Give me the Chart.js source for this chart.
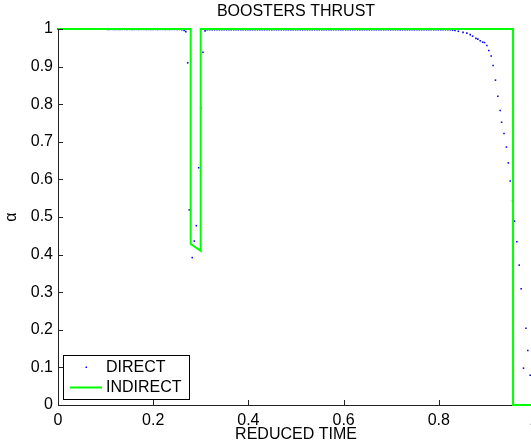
<!DOCTYPE html>
<html>
<head>
<meta charset="utf-8">
<script src="https://cdn.jsdelivr.net/npm/chart.js@4.4.1/dist/chart.umd.min.js"></script>
<style>
  html, body { margin: 0; padding: 0; background: #fff; overflow: hidden; }
  #wrap { width: 545px; height: 448px; position: relative; }
</style>
</head>
<body>
<div id="wrap"><canvas id="thrustChart"></canvas></div>
<script>
// reduced time / alpha
const directTime = [
  0,0.0025,0.005,0.0075,0.01,0.0125,0.015,0.0175,0.02,0.0225,0.025,0.0275,0.03,0.0325,0.035,0.0375,0.04,0.0425,0.045,0.0475,
  0.05,0.0525,0.055,0.0575,0.06,0.0625,0.065,0.0675,0.07,0.0725,0.075,0.0775,0.08,0.0825,0.085,0.0875,0.09,0.0925,0.095,0.0975,0.1,
  0.105,0.11,0.115,0.12,0.125,0.13,0.135,0.14,0.145,0.15,0.155,0.16,0.165,0.17,0.175,0.18,0.185,0.19,0.195,0.2,
  0.205,0.21,0.215,0.22,0.225,0.23,0.235,0.24,0.245,0.25,0.255,0.26,0.265,
  0.2685,0.2725,0.2758,0.282,0.2863,0.2905,0.2956,0.2998,0.3046,0.309,
  0.314,0.319,0.324,0.329,0.334,0.339,0.344,0.349,0.354,0.359,0.364,0.369,0.374,0.379,0.384,0.389,0.394,0.399,0.404,0.409,
  0.414,0.419,0.424,0.429,0.434,0.439,0.444,0.449,0.454,0.459,0.464,0.469,0.474,0.479,0.484,0.489,0.494,0.499,0.504,0.509,
  0.514,0.519,0.524,0.529,0.534,0.539,0.544,0.549,0.554,0.559,0.564,0.569,0.574,0.579,0.584,0.589,0.594,0.599,0.604,0.609,
  0.614,0.619,0.624,0.629,0.634,0.639,0.644,0.649,0.654,0.659,0.664,0.669,0.674,0.679,0.684,0.689,0.694,0.699,0.704,0.709,
  0.714,0.719,0.724,0.729,0.734,0.739,0.744,0.749,0.754,0.759,0.764,0.769,0.774,0.779,0.784,0.789,0.794,0.799,0.804,0.809,
  0.814,0.819,0.824,0.829,0.834,
  0.841,0.851,0.859,0.866,0.871,0.878,0.882,0.887,0.892,0.896,0.901,0.905,0.910,0.914,0.919,0.924,0.929,0.932,0.937,0.942,
  0.946,0.950,0.955,0.959,0.964,0.969,0.973,0.978,0.983,0.987,0.992
];
const directAlpha = [
  1,1,1,1,1,1,1,1,1,1,1,1,1,1,1,1,1,1,1,1,
  1,1,1,1,1,1,1,1,1,1,1,1,1,1,1,1,1,1,1,1,1,
  0.999,0.999,0.999,0.999,0.999,0.999,0.999,0.999,0.999,0.999,0.999,0.999,0.999,0.999,0.999,0.999,0.999,0.999,0.999,0.999,
  0.999,0.999,0.999,0.999,0.999,0.999,0.999,0.999,0.999,0.999,0.999,0.998,0.996,
  0.993,0.910,0.519,0.392,0.436,0.477,0.631,0.790,0.938,0.995,
  0.998,0.998,0.998,0.998,0.998,0.998,0.998,0.998,0.998,0.998,0.998,0.998,0.998,0.998,0.998,0.998,0.998,0.998,0.998,0.998,
  0.998,0.998,0.998,0.998,0.998,0.998,0.998,0.998,0.998,0.998,0.998,0.998,0.998,0.998,0.998,0.998,0.998,0.998,0.998,0.998,
  0.998,0.998,0.998,0.998,0.998,0.998,0.998,0.998,0.998,0.998,0.998,0.998,0.998,0.998,0.998,0.998,0.998,0.998,0.998,0.998,
  0.998,0.998,0.998,0.998,0.998,0.998,0.998,0.998,0.998,0.998,0.998,0.998,0.998,0.998,0.998,0.998,0.998,0.998,0.998,0.998,
  0.998,0.998,0.998,0.998,0.998,0.998,0.998,0.998,0.998,0.998,0.998,0.998,0.998,0.998,0.998,0.998,0.998,0.998,0.998,0.998,
  0.998,0.998,0.998,0.997,0.996,
  0.994,0.991,0.989,0.985,0.981,0.975,0.973,0.969,0.965,0.964,0.956,0.943,0.928,0.903,0.864,0.821,0.783,0.752,0.722,0.686,
  0.644,0.596,0.543,0.489,0.434,0.372,0.309,0.098,0.204,0.145,0.079
];

const indirectTime = [0, 0.2788, 0.2788, 0.2998, 0.2998, 0.956, 0.956, 1];
const indirectAlpha = [1, 1, 0.428, 0.410, 1, 1, 0, 0];

const xTicks = [0, 0.2, 0.4, 0.6, 0.8, 1];
const xTickLabels = ['0', '0.2', '0.4', '0.6', '0.8', '1'];
const yTicks = [0, 0.1, 0.2, 0.3, 0.4, 0.5, 0.6, 0.7, 0.8, 0.9, 1];
const yTickLabels = ['0', '0.1', '0.2', '0.3', '0.4', '0.5', '0.6', '0.7', '0.8', '0.9', '1'];

const FONT = "'Liberation Sans', Arial, Helvetica, sans-serif";
const BLUE = '#0000ff';
const GREEN = '#00ff00';
const AXIS = '#222';

const toXY = (xs, ys) => xs.map((x, i) => ({ x, y: ys[i] }));

// matlab style: inward ticks on left and bottom axes
const innerTicks = {
  id: 'innerTicks',
  afterDraw(chart) {
    const { ctx, chartArea: a, scales: { x, y } } = chart;
    ctx.save();
    ctx.strokeStyle = AXIS;
    ctx.lineWidth = 1;
    ctx.beginPath();
    yTicks.forEach(v => {
      const py = Math.round(y.getPixelForValue(v)) + 0.5;
      ctx.moveTo(a.left, py); ctx.lineTo(a.left + 5, py);
    });
    xTicks.forEach(v => {
      const px = Math.round(x.getPixelForValue(v)) + 0.5;
      ctx.moveTo(px, a.bottom); ctx.lineTo(px, a.bottom - 5);
    });
    ctx.stroke();
    ctx.restore();
  }
};

const boxLegend = {
  id: 'boxLegend',
  afterDraw(chart) {
    const { ctx } = chart;
    const ds = chart.data.datasets;
    ctx.save();
    ctx.fillStyle = '#fff';
    ctx.fillRect(63, 355, 126, 44);
    ctx.strokeStyle = '#000';
    ctx.lineWidth = 1;
    ctx.strokeRect(63.5, 355.5, 126, 44);
    ctx.fillStyle = ds[0].backgroundColor;
    ctx.fillRect(85.5, 366.5, 1.5, 1.5);
    ctx.strokeStyle = ds[1].borderColor;
    ctx.lineWidth = 2;
    ctx.beginPath();
    ctx.moveTo(70, 387.5); ctx.lineTo(102, 387.5);
    ctx.stroke();
    ctx.fillStyle = '#000';
    ctx.font = '16px ' + FONT;
    ctx.textBaseline = 'middle';
    ctx.fillText(ds[0].label, 106, 368);
    ctx.fillText(ds[1].label, 106, 388);
    ctx.restore();
  }
};

new Chart(document.getElementById('thrustChart'), {
  type: 'scatter',
  data: {
    datasets: [
      {
        label: 'DIRECT',
        data: toXY(directTime, directAlpha),
        showLine: false,
        pointStyle: 'rect',
        pointRadius: 1.1,
        borderWidth: 0,
        backgroundColor: BLUE,
        borderColor: BLUE,
        order: 1,
        clip: 4
      },
      {
        label: 'INDIRECT',
        data: toXY(indirectTime, indirectAlpha),
        showLine: true,
        pointRadius: 0,
        borderWidth: 2,
        borderColor: GREEN,
        backgroundColor: GREEN,
        order: 0,
        clip: 4
      }
    ]
  },
  options: {
    responsive: true,
    maintainAspectRatio: false,
    animation: false,
    events: [],
    layout: { padding: { left: 0, right: 11, top: 0, bottom: 0 } },
    plugins: {
      legend: { display: false },
      tooltip: { enabled: false },
      title: {
        display: true,
        text: 'BOOSTERS THRUST',
        fullSize: false,
        color: '#000',
        font: { family: FONT, size: 16, weight: 'normal' },
        padding: { top: 2, bottom: 7.8 }
      }
    },
    scales: {
      x: {
        type: 'linear',
        min: 0, max: 1,
        grid: { display: false, drawTicks: false, tickLength: 0 },
        border: { display: true, color: AXIS, width: 1 },
        afterBuildTicks: s => { s.ticks = xTicks.map(v => ({ value: v })); },
        afterFit: s => { s.height = 43; },
        ticks: {
          autoSkip: false, maxRotation: 0, padding: 6, color: '#000',
          font: { family: FONT, size: 16 },
          callback: (v, i) => xTickLabels[i]
        },
        title: {
          display: true, text: 'REDUCED TIME', color: '#000',
          font: { family: FONT, size: 16 },
          padding: { top: 0, bottom: 4 }
        }
      },
      y: {
        type: 'linear',
        min: 0, max: 1,
        grid: { display: false, drawTicks: false, tickLength: 0 },
        border: { display: true, color: AXIS, width: 1 },
        afterBuildTicks: s => { s.ticks = yTicks.map(v => ({ value: v })); },
        afterFit: s => { s.width = 58; },
        ticks: {
          autoSkip: false, padding: 5, color: '#000',
          font: { family: FONT, size: 16 },
          callback: (v, i) => yTickLabels[i]
        },
        title: {
          display: true, text: 'α', color: '#000',
          font: { family: FONT, size: 16 },
          padding: { top: 2, bottom: 0 }
        }
      }
    }
  },
  plugins: [innerTicks, boxLegend]
});
</script>
</body>
</html>
